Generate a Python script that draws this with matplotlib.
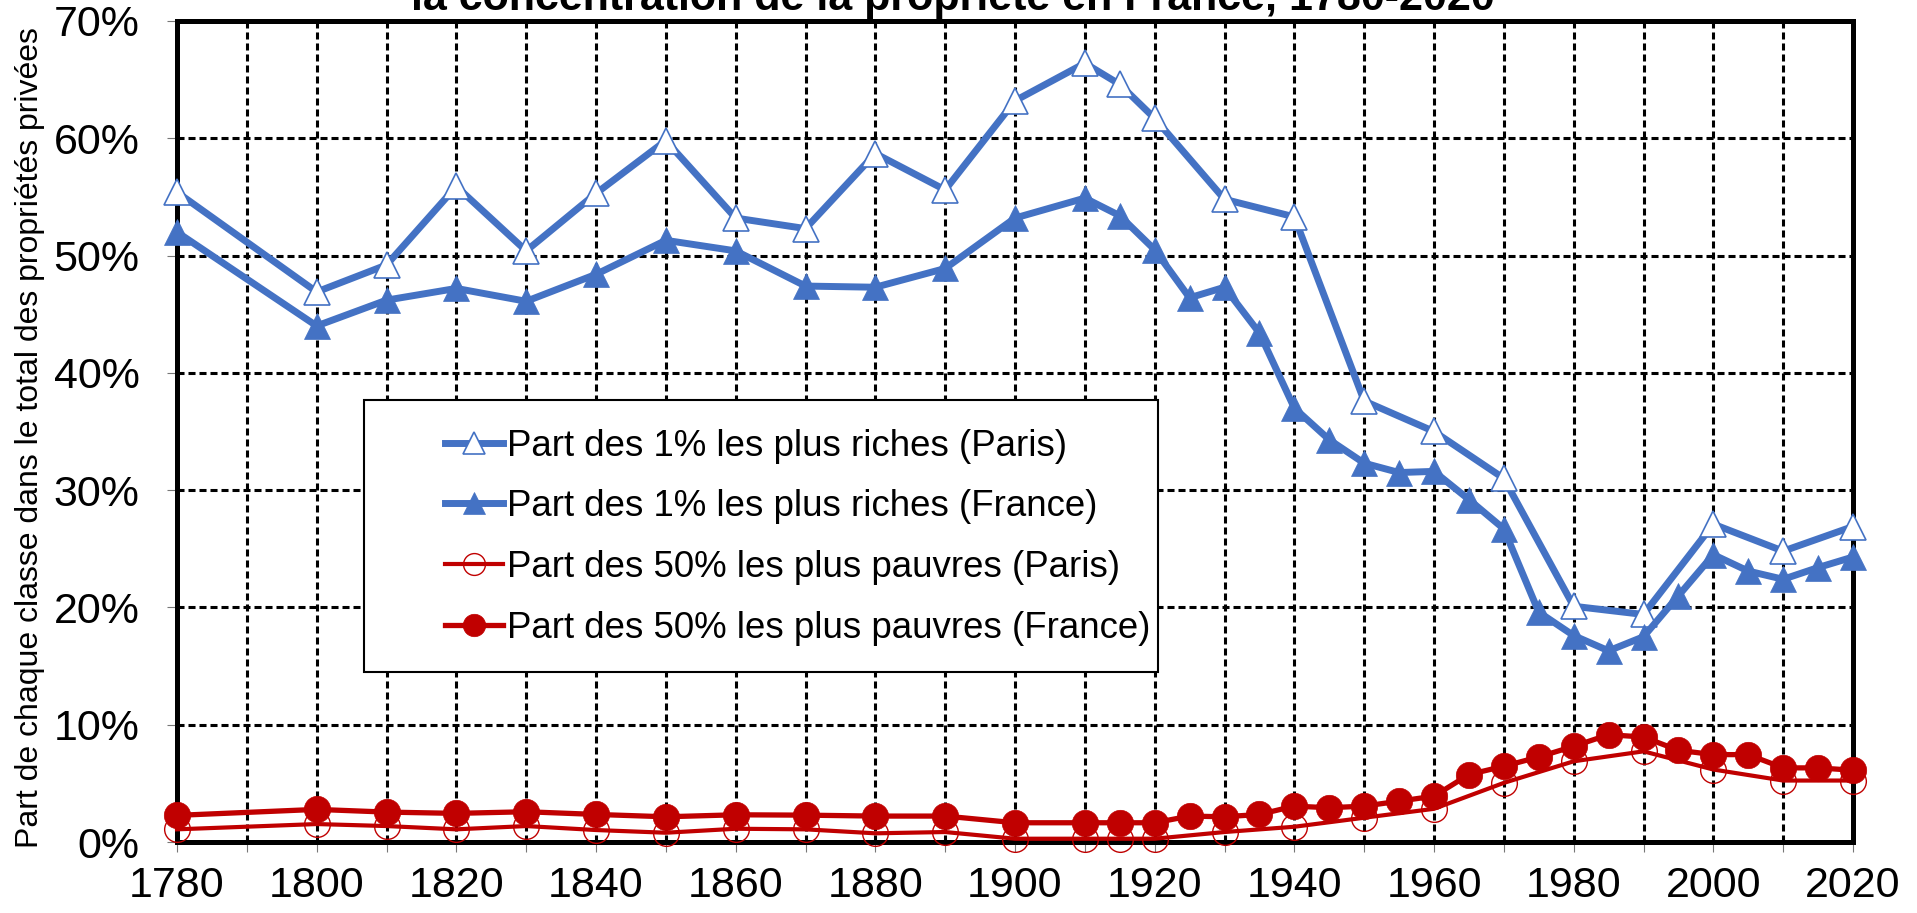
import matplotlib
matplotlib.use('Agg')
import matplotlib.pyplot as plt
from matplotlib.patches import Rectangle

plt.rcParams['font.family'] = ['Liberation Sans', 'DejaVu Sans']

# data (shares in %)
years_paris = [1780, 1800, 1810, 1820, 1830, 1840, 1850, 1860, 1870, 1880, 1890,
               1900, 1910, 1915, 1920, 1930, 1940, 1950, 1960, 1970, 1980, 1990,
               2000, 2010, 2020]
top1_paris = [55.4, 46.9, 49.2, 55.9, 50.4, 55.3, 59.8, 53.2, 52.3, 58.7, 55.6,
              63.2, 66.4, 64.6, 61.7, 54.8, 53.3, 37.6, 35.0, 31.0, 20.1, 19.4,
              27.1, 24.8, 26.9]
bottom50_paris = [1.08, 1.53, 1.36, 1.08, 1.36, 1.02, 0.79, 1.13, 1.08, 0.74, 0.85,
                  0.28, 0.28, 0.28, 0.28, 0.85, 1.30, 2.07, 2.83, 5.04, 6.88, 7.73,
                  6.18, 5.24, 5.24]

years_france = [1780, 1800, 1810, 1820, 1830, 1840, 1850, 1860, 1870, 1880, 1890,
                1900, 1910, 1915, 1920, 1925, 1930, 1935, 1940, 1945, 1950, 1955,
                1960, 1965, 1970, 1975, 1980, 1985, 1990, 1995, 2000, 2005, 2010,
                2015, 2020]
top1_france = [52.0, 44.0, 46.2, 47.2, 46.1, 48.4, 51.3, 50.4, 47.4, 47.3, 48.9,
               53.2, 54.9, 53.4, 50.5, 46.4, 47.3, 43.4, 37.0, 34.3, 32.3, 31.5,
               31.6, 29.2, 26.7, 19.6, 17.6, 16.3, 17.5, 21.0, 24.5, 23.1, 22.4,
               23.4, 24.3]
bottom50_france = [2.27, 2.78, 2.55, 2.44, 2.58, 2.35, 2.15, 2.32, 2.29, 2.21, 2.21,
                   1.64, 1.64, 1.64, 1.64, 2.21, 2.15, 2.35, 3.06, 2.92, 3.06, 3.48,
                   3.91, 5.75, 6.46, 7.25, 8.16, 9.15, 8.95, 7.82, 7.45, 7.45, 6.32,
                   6.32, 6.12]

labels = ['Part des 1% les plus riches (Paris)',
          'Part des 1% les plus riches (France)',
          'Part des 50% les plus pauvres (Paris)',
          'Part des 50% les plus pauvres (France)']
title = 'la concentration de la propriété en France, 1780-2020'
ylabel = 'Part de chaque classe dans le total des propriétés privées'
yticks = [0, 10, 20, 30, 40, 50, 60, 70]
ytick_labels = ['0%', '10%', '20%', '30%', '40%', '50%', '60%', '70%']
xticks = list(range(1780, 2021, 20))
xticks_minor = list(range(1790, 2020, 20))

blue = '#4472C4'
red = '#C00000'

W, H = 1917, 913
fig = plt.figure(figsize=(W / 100, H / 100), dpi=100)
ax = fig.add_axes([177 / W, 1 - 842 / H, (1853 - 177) / W, (842 - 21) / H])

ax.plot(years_paris, top1_paris, color=blue, lw=5, marker='^', ms=19,
        mfc='white', mec=blue, mew=1.2, label=labels[0], clip_on=False, zorder=5)
ax.plot(years_france, top1_france, color=blue, lw=5, marker='^', ms=19,
        mfc=blue, mec=blue, mew=0.5, label=labels[1], clip_on=False, zorder=5)
ax.plot(years_paris, bottom50_paris, color=red, lw=3, marker='o', ms=18.5,
        mfc='none', mec=red, mew=1, label=labels[2], clip_on=False, zorder=5)
ax.plot(years_france, bottom50_france, color=red, lw=3.8, marker='o', ms=19,
        mfc=red, mec=red, mew=0.5, label=labels[3], clip_on=False, zorder=6)

ax.set_xlim(1780, 2020)
ax.set_ylim(0, 70)
ax.set_yticks(yticks)
ax.set_yticklabels(ytick_labels)
ax.set_xticks(xticks)
ax.set_xticks(xticks_minor, minor=True)
ax.tick_params(axis='both', which='both', direction='out', length=7,
               width=0.8, color='#777777', labelsize=31)
ax.tick_params(axis='y', pad=20)
ax.tick_params(axis='x', which='both', pad=10)
ax.grid(True, which='both', color='black', lw=2.2, ls=(0, (2.3, 1.3)), zorder=1)
ax.set_axisbelow(True)
for s in ax.spines.values():
    s.set_linewidth(3.6)
    s.set_zorder(4)

fig.text(30 / W, 1 - 438 / H, ylabel, rotation=90, ha='center', va='center',
         fontsize=23)
# title line sits partly above the top edge, as in the source image
fig.text(953 / W, 1 - 10 / H, title, ha='center', va='baseline',
         fontsize=31, fontweight='bold')

# legend box
box = Rectangle((364 / W, 1 - 672 / H), (1158 - 364) / W, (672 - 400) / H,
                transform=fig.transFigure, facecolor='white', edgecolor='black',
                lw=1.5, zorder=7)
ax.add_patch(box)
box.set_clip_on(False)
leg = ax.legend(loc='center left', bbox_to_anchor=(445 / W, 1 - 537 / H),
                bbox_transform=fig.transFigure, frameon=False, fontsize=26.4,
                borderpad=0, borderaxespad=0, handlelength=1.58,
                handletextpad=0.1, labelspacing=0.7, markerscale=0.85)
leg.set_zorder(8)

fig.savefig('out.png', dpi=100)
